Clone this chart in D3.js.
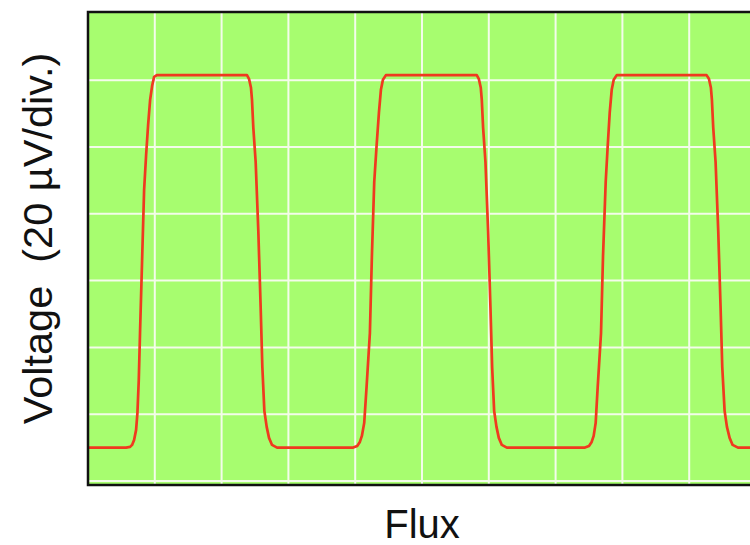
<!DOCTYPE html>
<html>
<head>
<meta charset="utf-8">
<script src="https://cdn.jsdelivr.net/npm/d3@7"></script>
<style>
  html, body { margin: 0; padding: 0; background: #ffffff; }
  svg { display: block; }
  text { font-family: "Liberation Sans", Arial, sans-serif; fill: #111; }
</style>
</head>
<body>
<script>
// Flux position in tenths of a division (grid every 10) and voltage in µV (grid every 20).
const fluxValues = [
  0, 5.7, 6.3, 6.6, 6.9, 7.2, 7.4, 7.6, 7.8, 8.1, 8.4, 8.7, 9.0, 9.3, 9.6, 9.9, 10.3,
  23.8, 24.1, 24.4, 24.55, 24.75, 25.1, 25.5, 25.85, 26.1, 26.4, 26.75, 27.1, 27.55, 28.3,
  39.7, 40.3, 40.7, 41.0, 41.35, 41.7, 42.2, 42.5, 42.85, 43.2, 43.55, 43.85, 44.15, 44.6,
  58.2, 58.5, 58.8, 58.95, 59.15, 59.5, 59.9, 60.25, 60.5, 60.8, 61.15, 61.5, 61.95, 62.7,
  74.4, 75.0, 75.4, 75.7, 76.0, 76.3, 76.8, 77.1, 77.5, 77.8, 78.1, 78.4, 78.7, 79.15,
  92.6, 92.95, 93.25, 93.4, 93.6, 93.95, 94.35, 94.7, 94.95, 95.3, 95.65, 96.05, 96.5, 97.3, 100
];
const voltageValues = [
  10, 10, 10.2, 10.8, 12.3, 15.3, 20.4, 30.2, 45.2, 66.2, 87.1, 97.6, 106.6, 114.1, 118.3, 121.0, 121.5,
  121.5, 120.4, 117.7, 114.1, 105.7, 95.5, 74.6, 51.8, 34.1, 21.0, 16.2, 12.9, 10.8, 10,
  10, 10.5, 11.7, 13.5, 17.4, 28.1, 44.3, 67.4, 89.5, 100.3, 110.2, 117.1, 120.1, 121.5,
  121.5, 120.4, 117.7, 114.1, 105.7, 95.5, 74.6, 51.8, 34.1, 21.0, 16.2, 12.9, 10.8, 10,
  10, 10.5, 11.7, 13.5, 17.4, 28.1, 44.3, 67.4, 89.5, 100.3, 110.2, 117.1, 120.1, 121.5,
  121.5, 120.4, 117.7, 114.1, 105.7, 95.5, 74.6, 51.8, 34.1, 21.0, 16.2, 12.9, 10.8, 10, 10
];
const fluxGrid = [10, 20, 30, 40, 50, 60, 70, 80, 90];
const voltageGrid = [0, 20, 40, 60, 80, 100, 120];
const xTitle = "Flux";
const yTitle = "Voltage  (20 µV/div.)";

const W = 750, H = 545;
const plot = { left: 88, right: 756, top: 12, bottom: 485 };

const x = d3.scaleLinear().domain([0, 100]).range([plot.left, plot.right]);
const y = d3.scaleLinear().domain([-1.2, 140.4]).range([plot.bottom, plot.top]);

const svg = d3.select("body").append("svg").attr("width", W).attr("height", H);

// oscilloscope screen
svg.append("rect")
  .attr("x", plot.left).attr("y", plot.top)
  .attr("width", plot.right - plot.left).attr("height", plot.bottom - plot.top)
  .attr("fill", "#a7fd6f");

const grid = svg.append("g").attr("stroke", "#f3fcea").attr("stroke-width", 2);
grid.selectAll("line.v").data(fluxGrid).join("line").attr("class", "v")
  .attr("x1", d => x(d)).attr("x2", d => x(d))
  .attr("y1", plot.top).attr("y2", plot.bottom);
grid.selectAll("line.h").data(voltageGrid).join("line").attr("class", "h")
  .attr("x1", plot.left).attr("x2", plot.right)
  .attr("y1", d => y(d)).attr("y2", d => y(d));

// trace
const points = fluxValues.map((f, i) => [f, voltageValues[i]]);
svg.append("path")
  .datum(points)
  .attr("fill", "none")
  .attr("stroke", "#ef3a1f")
  .attr("stroke-width", 2.7)
  .attr("stroke-linejoin", "round")
  .attr("d", d3.line().x(d => x(d[0])).y(d => y(d[1])));

svg.append("rect")
  .attr("x", plot.left).attr("y", plot.top)
  .attr("width", plot.right - plot.left).attr("height", plot.bottom - plot.top)
  .attr("fill", "none").attr("stroke", "#111").attr("stroke-width", 2.5);

svg.append("text")
  .attr("x", (plot.left + plot.right) / 2).attr("y", 538)
  .attr("text-anchor", "middle").attr("font-size", 40)
  .text(xTitle);

svg.append("text")
  .attr("transform", `translate(52,${(plot.top + plot.bottom) / 2 - 10}) rotate(-90)`)
  .attr("text-anchor", "middle").attr("font-size", 41.5)
  .style("white-space", "pre")
  .text(yTitle);
</script>
</body>
</html>
